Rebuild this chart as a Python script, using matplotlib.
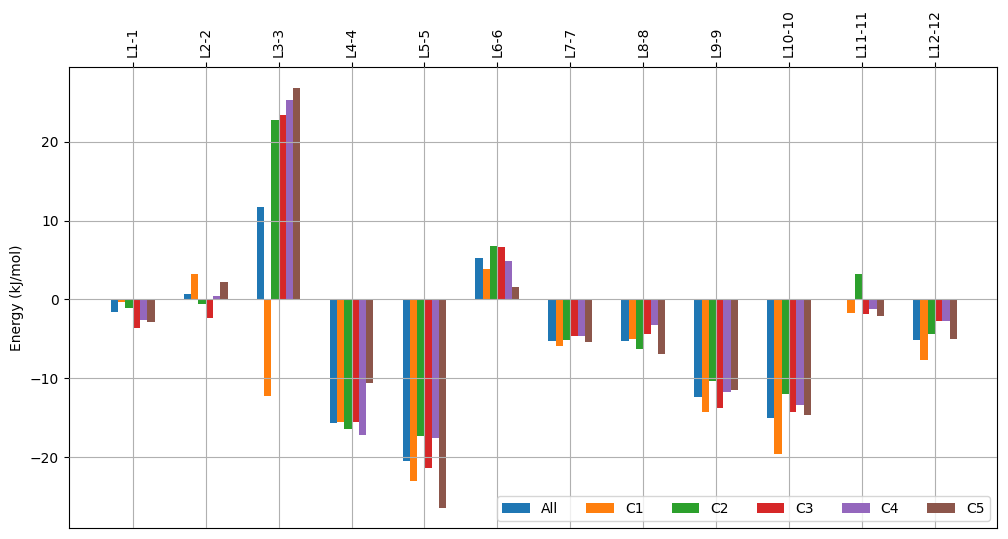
import numpy as np
import matplotlib
matplotlib.use("Agg")
from matplotlib import pyplot as plt

labels = ["L1-1", "L2-2", "L3-3", "L4-4", "L5-5", "L6-6",
          "L7-7", "L8-8", "L9-9", "L10-10", "L11-11", "L12-12"]
series = ["All", "C1", "C2", "C3", "C4", "C5"]

e_all = [-1.6, 0.67, 11.7, -15.7, -20.5, 5.2, -5.25, -5.25, -12.4, -15.1, 0.0, -5.1]
e_c1 = [-0.35, 3.2, -12.2, -15.5, -23.0, 3.85, -5.9, -5.0, -14.3, -19.6, -1.7, -7.7]
e_c2 = [-1.07, -0.6, 22.8, -16.4, -17.3, 6.77, -5.1, -6.3, -10.3, -12.0, 3.2, -4.37]
e_c3 = [-3.6, -2.3, 23.4, -15.5, -21.4, 6.64, -4.6, -4.37, -13.8, -14.3, -1.83, -2.8]
e_c4 = [-2.6, 0.42, 25.3, -17.2, -17.6, 4.86, -4.7, -3.2, -11.7, -13.4, -1.2, -2.7]
e_c5 = [-2.9, 2.2, 26.8, -10.6, -26.5, 1.56, -5.4, -6.9, -11.5, -14.7, -2.1, -5.0]
dati = [e_all, e_c1, e_c2, e_c3, e_c4, e_c5]

x = np.arange(len(labels))
w = 0.1

f1 = plt.figure(figsize=(10.08, 5.39), dpi=100)
ax = f1.add_subplot(1, 1, 1)

for i, (nome, y) in enumerate(zip(series, dati)):
    ax.bar(x + (i - 2.5) * w, y, width=w, label=nome)

ax.set_ylabel("Energy (kJ/mol)")
ax.set_xticks(x)
ax.set_xticklabels(labels, rotation=90)
ax.xaxis.tick_top()
ax.set_xlim(-0.88, 11.85)
ax.set_ylim(-29.0, 29.5)
ax.set_yticks([-20, -10, 0, 10, 20])
# griglia sopra le barre come nel riferimento
ax.set_axisbelow(False)
ax.grid(True, color="#b0b0b0")

ax.legend(loc="lower right", ncol=6)

f1.subplots_adjust(left=0.068, right=0.989, top=0.876, bottom=0.0204)
f1.savefig("out.png", dpi=100)
